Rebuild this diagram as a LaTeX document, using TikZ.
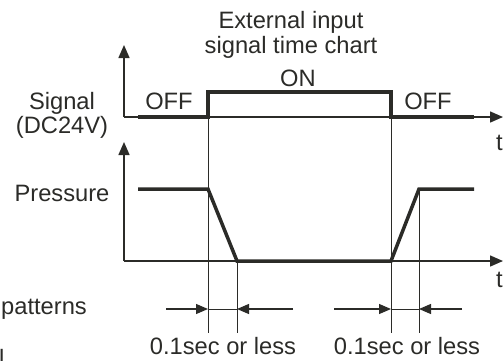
\documentclass[tikz,border=0pt]{standalone}
\usepackage{fontspec}
\setmainfont{Liberation Sans}
\usetikzlibrary{arrows.meta,positioning}
\definecolor{tcink}{HTML}{2B2B28}
\tikzset{
  axis/.style={-{Triangle[length=13pt,width=11pt]},line width=1.5pt,tcink},
  wave/.style={line width=3.5pt,tcink,line join=miter},
  guide/.style={line width=1pt,tcink},
  dim/.style={-{Triangle[length=12pt,width=10pt]},line width=1.2pt,tcink},
  lab/.style={font=\fontsize{23.7}{24.5}\selectfont,text=tcink,inner sep=0pt,align=center},
}
\begin{document}
\begin{tikzpicture}[x=1pt,y=-1pt]
  \useasboundingbox (0,0) rectangle (504,360);
  % axes
  \coordinate (o1) at (124,117); \coordinate (y1) at (124,45);  \coordinate (x1) at (503,117);
  \coordinate (o2) at (124,261); \coordinate (y2) at (124,142); \coordinate (x2) at (503,261);
  \draw[axis] (o1) -- (y1);
  \draw[axis] (o1) -- (x1);
  \draw[axis] (o2) -- (y2);
  \draw[axis] (o2) -- (x2);
  % guide lines
  \coordinate (on) at (208,92);  \coordinate (off) at (391,92);
  \coordinate (pl) at (237,261); \coordinate (ph) at (419,189);
  \coordinate (on b) at (208,333);  \coordinate (off b) at (391,333);
  \coordinate (pl b) at (237,333);  \coordinate (ph b) at (419,333);
  \draw[guide] (on) -- (on b);
  \draw[guide] (off) -- (off b);
  \draw[guide] (pl) -- (pl b);
  \draw[guide] (ph) -- (ph b);
  % signal and pressure
  \draw[wave] (138,117) -- (208,117) -- (on) -- (off) -- (391,117) -- (474,117);
  \draw[wave] (138,189) -- (208,189) -- (pl) -- (391,261) -- (ph) -- (474,189);
  % response times
  \coordinate (d1) at (208,309); \coordinate (d2) at (237,309);
  \coordinate (d3) at (391,309); \coordinate (d4) at (419,309);
  \draw[dim] (166,309) -- (d1);
  \draw[dim] (293,309) -- (d2);
  \draw[guide] (d1) -- (d2);
  \draw[dim] (334,309) -- (d3);
  \draw[dim] (462,309) -- (d4);
  \draw[guide] (d3) -- (d4);
  % labels
  \node[lab] (title) at (291,35) {External input\\signal time chart};
  \node[lab] (onlab) at (298,78) {ON};
  \node[lab] (off1) at (169,101) {OFF};
  \node[lab] (off2) at (428,101) {OFF};
  \node[lab] (siglab) at (62,115.5) {Signal\\(DC24V)};
  \node[lab] (preslab) at (62,193) {Pressure};
  \node[lab,anchor=west] (t1) at (496,143) {t};
  \node[lab,anchor=west] (t2) at (496,280) {t};
  \node[lab] (dt1) at (223,346.5) {0.1sec or less};
  \node[lab] (dt2) at (407,346.5) {0.1sec or less};
  \node[lab,anchor=west] (pat) at (1,309) {patterns};
  \node[lab,anchor=base west] (cut) at (-1,366) {l};
\end{tikzpicture}
\end{document}
